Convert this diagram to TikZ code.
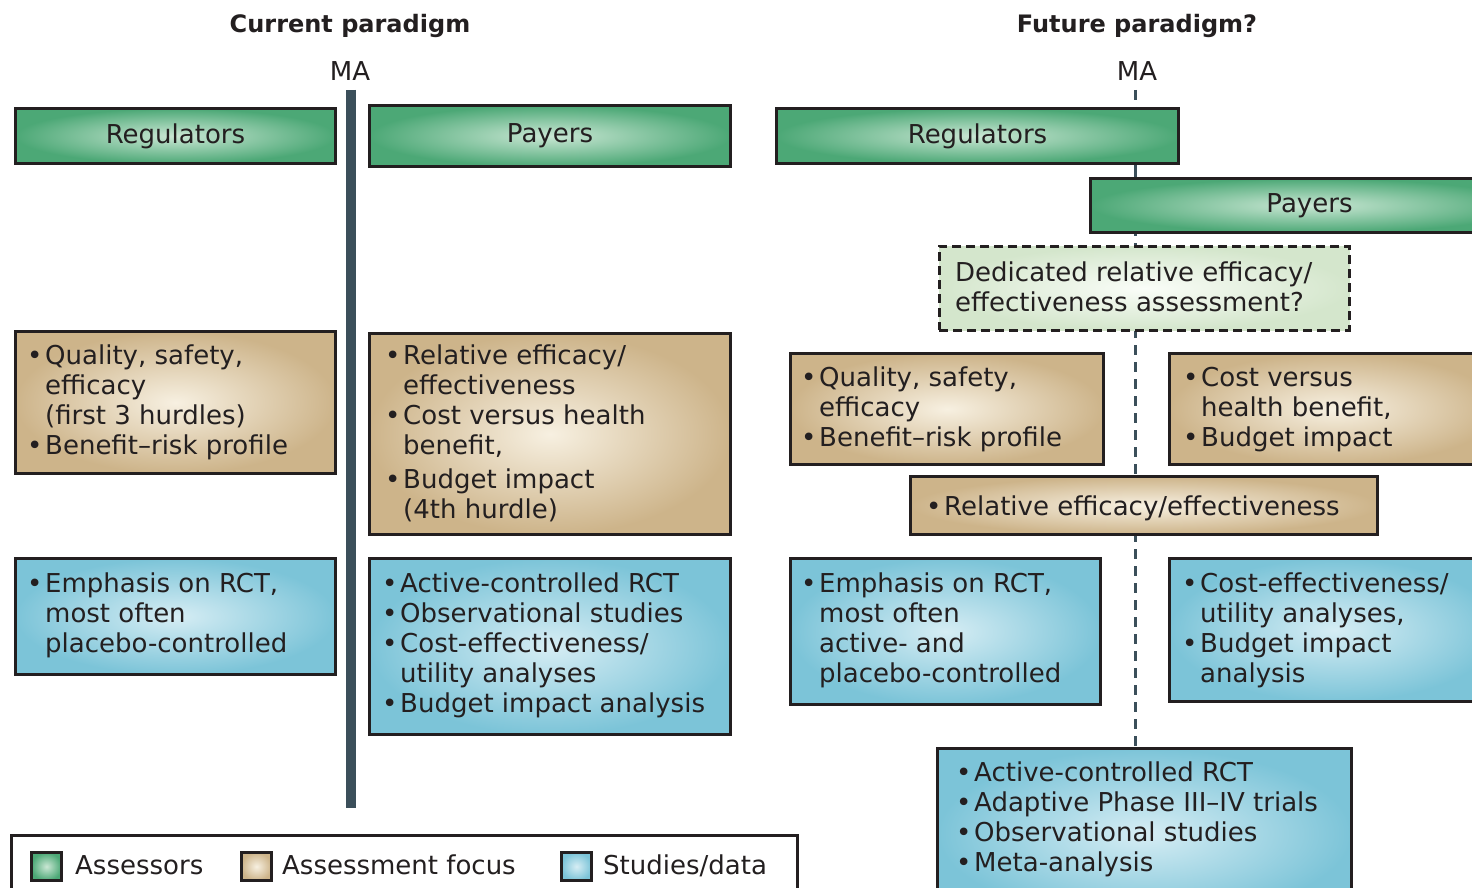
\documentclass[tikz,border=0pt]{standalone}
\usepackage{fontspec}
\setmainfont{DejaVu Sans}
\definecolor{grO}{RGB}{76,168,118}
\definecolor{grI}{RGB}{202,231,212}
\definecolor{tnO}{RGB}{205,180,138}
\definecolor{tnI}{RGB}{247,240,225}
\definecolor{blO}{RGB}{124,196,216}
\definecolor{blI}{RGB}{214,237,244}
\definecolor{dsO}{RGB}{212,230,204}
\definecolor{dsI}{RGB}{250,253,248}
\definecolor{edge}{RGB}{35,31,32}
\definecolor{barc}{RGB}{59,79,90}
\newcommand{\bul}{\makebox[18pt][l]{\raisebox{0pt}{\fontsize{26}{26}\selectfont •}}}
\newcommand{\ind}{\hspace*{18pt}}
\newcommand{\lns}[1]{\parbox[t]{600pt}{\raggedright #1}}
\tikzset{
  boxbase/.style={draw=edge, line width=3pt, shading=radial, inner sep=0pt, anchor=north west,
    font=\fontsize{26}{30}\selectfont, text=edge},
  grbox/.style={boxbase, inner color=grI, outer color=grO},
  tnbox/.style={boxbase, inner color=tnI, outer color=tnO},
  blbox/.style={boxbase, inner color=blI, outer color=blO},
  dsbox/.style={boxbase, inner color=dsI, outer color=dsO, dash pattern=on 9pt off 5pt, line width=2.5pt},
  txt/.style={anchor=base west, inner sep=0pt, font=\fontsize{26}{30}\selectfont, text=edge},
  ttl/.style={anchor=base, inner sep=0pt, font=\bfseries\fontsize{24}{28}\selectfont, text=edge},
  malbl/.style={anchor=base, inner sep=0pt, font=\fontsize{26}{30}\selectfont, text=edge},
  barline/.style={draw=barc, line width=10pt},
  dline/.style={draw=barc, line width=3pt, dash pattern=on 10pt off 7pt},
  sline/.style={draw=barc, line width=3pt},
  legsq/.style={draw=edge, line width=3pt, shading=radial, inner sep=0pt, anchor=north west,
    minimum width=30pt, minimum height=28pt},
}
\begin{document}
\begin{tikzpicture}[x=1pt,y=-1pt]
\useasboundingbox[fill=white] (0,0) rectangle (1472,888);

% titles
\node[ttl] (tCur) at (350,33) {Current paradigm};
\node[ttl] (tFut) at (1137,33) {Future paradigm?};
\node[malbl] (maL) at (350,81) {MA};
\node[malbl] (maR) at (1137,81) {MA};

% left bar
\coordinate (barTop) at (351,90);
\coordinate (barEnd) at (351,808);
\draw[barline] (barTop) -- (barEnd);

% right dashed line
\coordinate (rTop) at (1135,90);
\coordinate (rBot) at (1135,747);
\draw[dline] (rTop) -- (rBot);

% ---------- current paradigm ----------
\node[grbox, minimum width=320pt, minimum height=55pt] (regL) at (14,107) {Regulators};
\node[grbox, minimum width=361pt, minimum height=61pt] (payL) at (368,104) {Payers};

\node[tnbox, minimum width=320pt, minimum height=142pt] (focL) at (14,330) {};
\node[txt] (tFocL) at (27,364) {\lns{\bul Quality, safety,\\ \ind efficacy\\ \ind (first 3 hurdles)\\ \bul Benefit–risk profile}};

\node[tnbox, minimum width=361pt, minimum height=201pt] (focP) at (368,332) {};
\node[txt] (tFocP) at (385,364) {\lns{\bul Relative efficacy/\\ \ind effectiveness\\ \bul Cost versus health\\ \ind benefit,\\[4pt] \bul Budget impact\\ \ind (4th hurdle)}};

\node[blbox, minimum width=320pt, minimum height=116pt] (stuL) at (14,557) {};
\node[txt] (tStuL) at (27,592) {\lns{\bul Emphasis on RCT,\\ \ind most often\\ \ind placebo-controlled}};

\node[blbox, minimum width=361pt, minimum height=176pt] (stuP) at (368,557) {};
\node[txt] (tStuP) at (382,592) {\lns{\bul Active-controlled RCT\\ \bul Observational studies\\ \bul Cost-effectiveness/\\ \ind utility analyses\\ \bul Budget impact analysis}};

% ---------- future paradigm ----------
\node[grbox, minimum width=402pt, minimum height=55pt] (regR) at (775,107) {Regulators};
\node[grbox, minimum width=438pt, minimum height=54pt] (payR) at (1089,177) {Payers};
\draw[sline] (regR.south -| rTop) -- (payR.north -| rTop);

\node[dsbox, minimum width=410pt, minimum height=84pt] (ded) at (938,245) {};
\node[txt] (tDed) at (955,281) {\lns{Dedicated relative efficacy/\\ effectiveness assessment?}};

\node[tnbox, minimum width=313pt, minimum height=111pt] (focRL) at (789,352) {};
\node[txt] (tFocRL) at (801,386) {\lns{\bul Quality, safety,\\ \ind efficacy\\ \bul Benefit–risk profile}};

\node[tnbox, minimum width=330pt, minimum height=111pt] (focRR) at (1168,352) {};
\node[txt] (tFocRR) at (1183,386) {\lns{\bul Cost versus\\ \ind health benefit,\\ \bul Budget impact}};

\node[tnbox, minimum width=467pt, minimum height=58pt] (rel) at (909,475) {};
\node[txt] (tRel) at (926,515) {\lns{\bul Relative efficacy/effectiveness}};

\node[blbox, minimum width=310pt, minimum height=146pt] (stuRL) at (789,557) {};
\node[txt] (tStuRL) at (801,592) {\lns{\bul Emphasis on RCT,\\ \ind most often\\ \ind active- and\\ \ind placebo-controlled}};

\node[blbox, minimum width=330pt, minimum height=143pt] (stuRR) at (1168,557) {};
\node[txt] (tStuRR) at (1182,592) {\lns{\bul Cost-effectiveness/\\ \ind utility analyses,\\ \bul Budget impact\\ \ind analysis}};

\node[blbox, minimum width=414pt, minimum height=170pt] (stuB) at (936,747) {};
\node[txt] (tStuB) at (956,781) {\lns{\bul Active-controlled RCT\\ \bul Adaptive Phase III–IV trials\\ \bul Observational studies\\ \bul Meta-analysis}};

% ---------- legend ----------
\node[draw=edge, line width=3pt, anchor=north west, inner sep=0pt, minimum width=786pt, minimum height=80pt] (leg) at (10,834) {};
\node[legsq, inner color=grI, outer color=grO] (sqA) at (30,851) {};
\node[txt] (lA) at (75,874) {Assessors};
\node[legsq, inner color=tnI, outer color=tnO] (sqF) at (240,851) {};
\node[txt] (lF) at (282,874) {Assessment focus};
\node[legsq, inner color=blI, outer color=blO] (sqS) at (560,851) {};
\node[txt] (lS) at (603,874) {Studies/data};
\end{tikzpicture}
\end{document}
